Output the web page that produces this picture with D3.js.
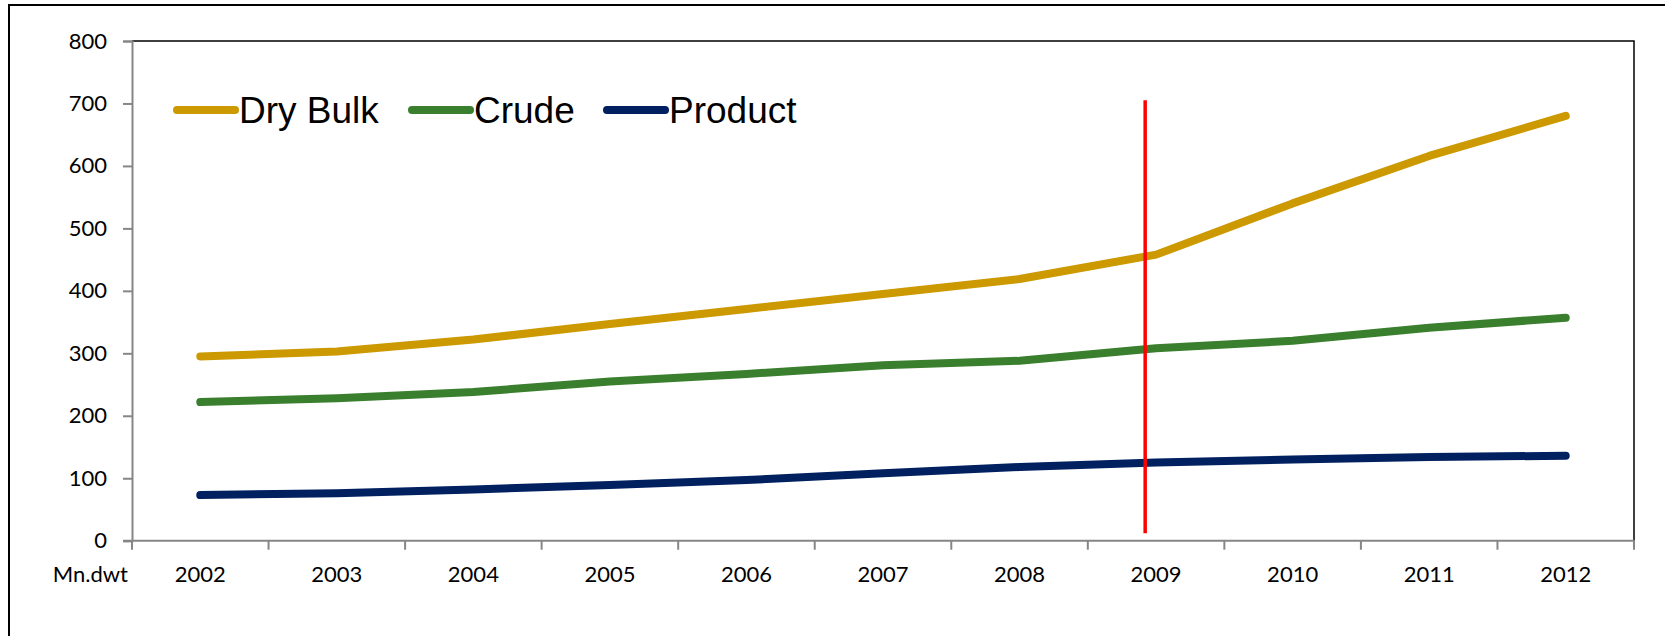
<!DOCTYPE html>
<html>
<head>
<meta charset="utf-8">
<script src="https://cdn.jsdelivr.net/npm/d3@7"></script>
<style>
  body { margin: 0; background: #fff; }
  svg { display: block; }
</style>
</head>
<body>
<div id="chart"></div>
<script>
// fleet size by segment, million dwt
const years = ["2002", "2003", "2004", "2005", "2006", "2007", "2008", "2009", "2010", "2011", "2012"];
const dryBulk = [295, 303, 322, 347, 371, 395, 419, 458, 540, 616, 680];
const crude = [222, 228, 238, 255, 267, 281, 288, 308, 320, 341, 357];
const product = [73, 76, 82, 89, 97, 108, 118, 125, 130, 134, 136];
const yTicks = [0, 100, 200, 300, 400, 500, 600, 700, 800];
const unitLabel = "Mn.dwt";

// red marker just left of the 2009 point
const markerYear = "2009";
const markerShift = 0.42;       // fraction of a band from its left edge
const markerRange = [12, 705];

const series = [
  { name: "Dry Bulk", values: dryBulk, color: "#cc9900" },
  { name: "Crude", values: crude, color: "#3a7f2e" },
  { name: "Product", values: product, color: "#002060" }
];

const width = 1665, height = 636;
const plot = { left: 132, right: 1634, top: 41, bottom: 540.7 };

const svg = d3.select("#chart").append("svg")
  .attr("width", width)
  .attr("height", height);

// outer chart frame (right/bottom sit outside the picture)
svg.append("rect")
  .attr("x", 9).attr("y", 5)
  .attr("width", width + 20).attr("height", height + 20)
  .attr("fill", "none")
  .attr("stroke", "#000")
  .attr("stroke-width", 2);

const x = d3.scaleBand()
  .domain(years)
  .range([plot.left, plot.right])
  .padding(0);

const y = d3.scaleLinear()
  .domain([0, 800])
  .range([plot.bottom, plot.top]);

// plot area border top & right
svg.append("path")
  .attr("d", `M${plot.left},${plot.top}H${plot.right}V${plot.bottom}`)
  .attr("fill", "none")
  .attr("stroke", "#000")
  .attr("stroke-width", 1.5);

// y axis
const yAxis = svg.append("g")
  .attr("transform", `translate(${plot.left},0)`)
  .call(d3.axisLeft(y).tickValues(yTicks).tickSize(9).tickPadding(16));
yAxis.select(".domain").attr("stroke", "#868686").attr("stroke-width", 2);
yAxis.selectAll(".tick line").attr("stroke", "#868686").attr("stroke-width", 2);
yAxis.selectAll(".tick text")
  .attr("fill", "#000")
  .style("font-family", "Lato, 'Open Sans', sans-serif")
  .style("font-size", "22px");

// x axis: labels centred in bands, ticks on band edges
const xAxis = svg.append("g")
  .attr("transform", `translate(0,${plot.bottom})`)
  .call(d3.axisBottom(x).tickSize(0).tickPadding(26));
xAxis.select(".domain").remove();
xAxis.selectAll(".tick text")
  .attr("fill", "#000")
  .style("font-family", "Lato, 'Open Sans', sans-serif")
  .style("font-size", "22px");

svg.append("line")
  .attr("x1", plot.left - 9).attr("x2", plot.right)
  .attr("y1", plot.bottom).attr("y2", plot.bottom)
  .attr("stroke", "#868686").attr("stroke-width", 2);

svg.selectAll(".xedge")
  .data(d3.range(years.length + 1))
  .enter()
  .append("line")
  .attr("class", "xedge")
  .attr("x1", i => plot.left + i * x.step())
  .attr("x2", i => plot.left + i * x.step())
  .attr("y1", plot.bottom)
  .attr("y2", plot.bottom + 9)
  .attr("stroke", "#868686")
  .attr("stroke-width", 2);

svg.append("text")
  .attr("x", 128)
  .attr("y", plot.bottom + 34)
  .attr("dy", "0.32em")
  .attr("text-anchor", "end")
  .style("font-family", "Lato, 'Open Sans', sans-serif")
  .style("font-size", "22px")
  .text(unitLabel);

// series lines
const line = d3.line()
  .x((d, i) => x(years[i]) + x.bandwidth() / 2)
  .y(d => y(d));

svg.selectAll(".series")
  .data(series)
  .enter()
  .append("path")
  .attr("class", "series")
  .attr("d", d => line(d.values))
  .attr("fill", "none")
  .attr("stroke", d => d.color)
  .attr("stroke-width", 8)
  .attr("stroke-linecap", "round")
  .attr("stroke-linejoin", "round");

// red marker
const mx = x(markerYear) + x.bandwidth() * markerShift;
svg.append("line")
  .attr("x1", mx).attr("x2", mx)
  .attr("y1", y(markerRange[0])).attr("y2", y(markerRange[1]))
  .attr("stroke", "#ff0000")
  .attr("stroke-width", 3.5);

// legend
const legendX = [177, 412, 607];
const legend = svg.selectAll(".legend")
  .data(series)
  .enter()
  .append("g")
  .attr("class", "legend")
  .attr("transform", (d, i) => `translate(${legendX[i]},110)`);

legend.append("line")
  .attr("x1", 0).attr("x2", 58)
  .attr("stroke", d => d.color)
  .attr("stroke-width", 8)
  .attr("stroke-linecap", "round");

legend.append("text")
  .attr("x", 62)
  .attr("y", 13)
  .style("font-family", "'Liberation Sans', Arial, sans-serif")
  .style("font-size", "37px")
  .text(d => d.name);
</script>
</body>
</html>
